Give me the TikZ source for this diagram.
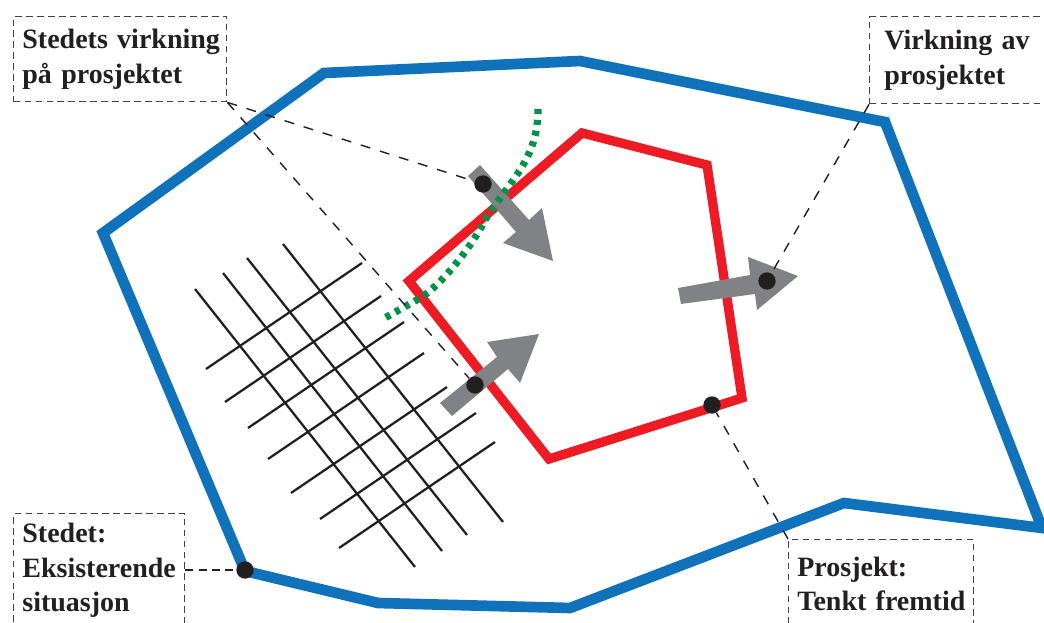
\documentclass[tikz,border=0pt]{standalone}
\usepackage{fontspec}
\setmainfont{Liberation Serif}
\definecolor{siteblue}{HTML}{1072BA}
\definecolor{projred}{HTML}{ED1C24}
\definecolor{edgegreen}{HTML}{009444}
\definecolor{arrowgray}{HTML}{808285}
\definecolor{inkblack}{HTML}{231F20}
\tikzset{
  px/.style={x=0.75pt,y=-0.75pt},
  siteline/.style={draw=siteblue,line width=8pt,miter limit=10,line join=miter},
  projline/.style={draw=projred,line width=7pt,line join=miter},
  edgeline/.style={draw=edgegreen,line width=5.4pt,dash pattern=on 3.8pt off 4.4pt},
  gridline/.style={draw=inkblack,line width=1.7pt},
  impact/.style={fill=arrowgray,draw=none},
  leader/.style={draw=inkblack,line width=1.05pt,dash pattern=on 7.5pt off 7.5pt},
  shortleader/.style={draw=inkblack,line width=1.05pt,dash pattern=on 6pt off 4pt},
  dotmark/.style={circle,fill=inkblack,draw=none,minimum size=13pt,inner sep=0pt},
  labelbox/.style={draw=inkblack!85,line width=1.05pt,dash pattern=on 5pt off 3.2pt,rectangle,anchor=north west,
    inner sep=0pt,align=left,text=inkblack,font=\fontsize{21}{25.9}\selectfont\bfseries},
}
\begin{document}
\begin{tikzpicture}[px]
\useasboundingbox (0,0) rectangle (1044,623);
\clip (0,0) rectangle (1044,623);
% site boundary
\draw[siteline] (103,233) -- (324,73) -- (580,61) -- (885,122) -- (1042,528) -- (844,503) -- (570,608) -- (378,603) -- (245,571) -- cycle;
% project boundary
\draw[projline] (582,133) -- (707,165) -- (742,398) -- (549,459) -- (409,281) -- cycle;
% grid
\foreach \a/\b/\c/\d in {195/289/415/567,223/273/442/551,247/258/467/535,283/244/503/522,
  206/369/362/263,225/402/381/296,248/428/404/322,268/459/424/353,291/493/447/387,320/519/476/413,339/548/495/442}
  \draw[gridline] (\a,\b) -- (\c,\d);
% arrows
\fill[impact] (468,176) -- (480,165) -- (529,220) -- (542,208) -- (553,261) -- (503,243) -- (516,232) -- cycle;
\fill[impact] (678,288) -- (750,275) -- (748,257) -- (798,276) -- (757,310) -- (755,294) -- (681,304) -- cycle;
\fill[impact] (440,403) -- (497,357) -- (487,342) -- (539,334) -- (520,383) -- (508,369) -- (452,416) -- cycle;
% green edge
\draw[edgeline] (538,109) .. controls (538,160) and (510,180) .. (485,220) .. controls (470,250) and (440,285) .. (422,297) -- (383,319);
% labels
\node[labelbox,minimum width=159.75pt,minimum height=63.75pt,text width=159.75pt] (impactsite) at (13,16) {\hspace*{6.5pt}Stedets virkning\\\hspace*{6.5pt}på prosjektet};
\node[labelbox,minimum width=150pt,minimum height=65.25pt,text width=150pt] (impactproj) at (869,16) {\hspace*{11pt}Virkning av\\\hspace*{11pt}prosjektet};
\node[labelbox,minimum width=128.25pt,minimum height=85.5pt,text width=128.25pt] (sitebox) at (13,513) {\hspace*{6.5pt}Stedet:\\\hspace*{6.5pt}Eksisterende\\\hspace*{6.5pt}situasjon};
\node[labelbox,minimum width=138.75pt,minimum height=66pt,text width=138.75pt] (projbox) at (788,539) {\hspace*{6.5pt}Prosjekt:\\\hspace*{6.5pt}Tenkt fremtid};
% dots
\node[dotmark] (d1) at (483,184) {};
\node[dotmark] (d2) at (475,385) {};
\node[dotmark] (d3) at (767,281) {};
\node[dotmark] (d4) at (712,405) {};
\node[dotmark] (d5) at (245,570) {};
% leaders
\draw[leader] (impactsite.south east) -- (d1);
\draw[leader] (impactsite.south east) -- (d2);
\draw[leader] (impactproj.south west) -- (d3);
\draw[leader] (projbox.north west) -- (d4);
\draw[shortleader] (sitebox.east |- d5) -- (d5);
\end{tikzpicture}
\end{document}
